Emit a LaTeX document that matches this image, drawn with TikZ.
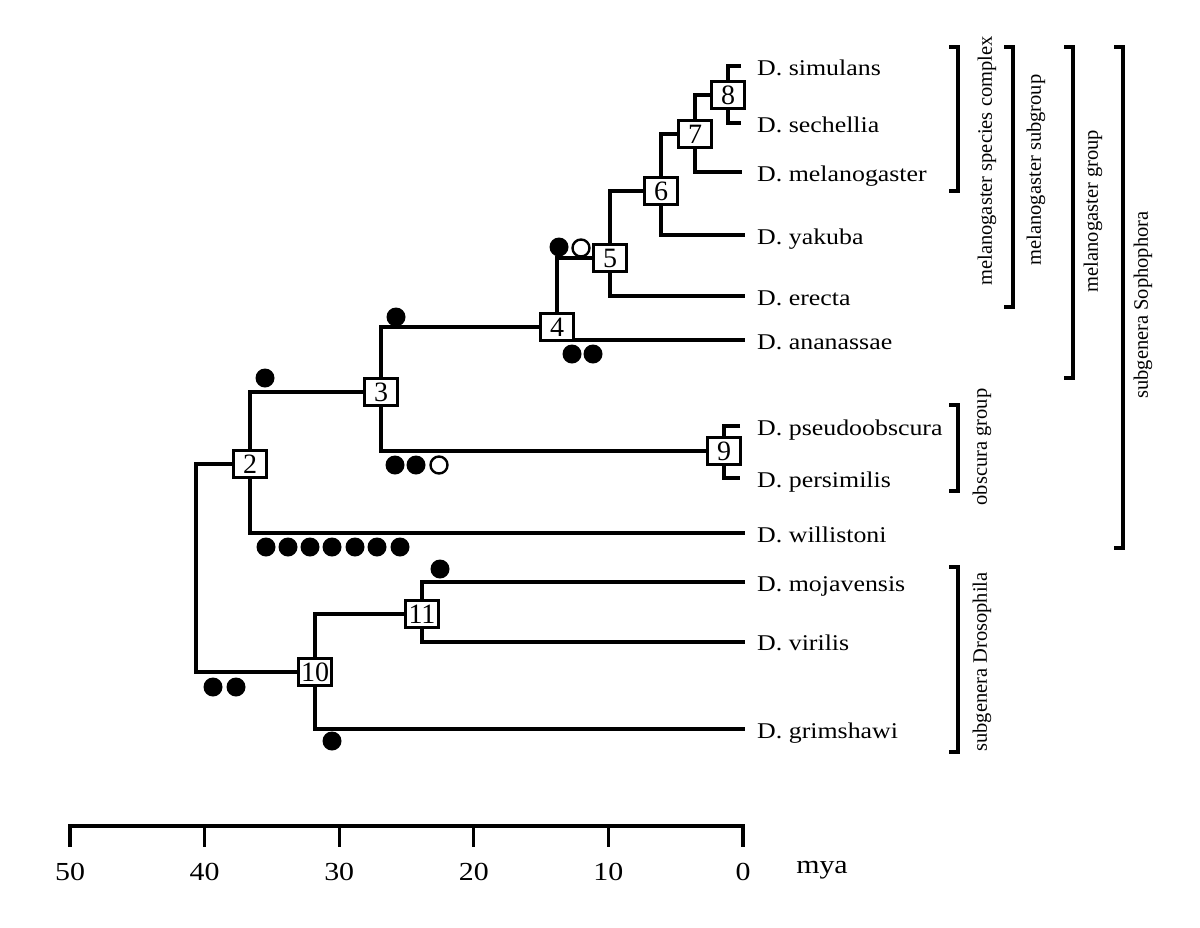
\documentclass[tikz,border=0pt]{standalone}
\usepackage{fontspec}
\setmainfont{Liberation Serif}
\pgfdeclarelayer{bg}
\pgfsetlayers{bg,main}
\newcommand{\wide}[1]{\scalebox{1.15}[1]{#1}}
\begin{document}
\begin{tikzpicture}[x=1pt,y=-1pt,
  br/.style={line width=3.1pt},
  nbox/.style={draw, fill=white, line width=3pt, minimum width=33pt, minimum height=27pt, inner sep=0pt, font=\fontsize{28}{28}\selectfont},
  leaf/.style={anchor=base west, inner sep=0pt, font=\fontsize{22.5}{22.5}\selectfont},
  fc/.style={circle, fill=black, minimum size=19pt, inner sep=0pt},
  oc/.style={circle, draw, fill=white, line width=2.4pt, minimum size=17pt, inner sep=0pt},
  grp/.style={rotate=90, inner sep=0pt, font=\fontsize{20.5}{20.5}\selectfont},
  axl/.style={inner sep=0pt, font=\fontsize{26}{26}\selectfont}]
\useasboundingbox (0,0) rectangle (1200,927);

% internal nodes
\node[nbox] (n8) at (728,95) {8};
\node[nbox] (n7) at (695,134) {7};
\node[nbox] (n6) at (661,191) {6};
\node[nbox] (n5) at (610,258) {5};
\node[nbox] (n4) at (557,327) {4};
\node[nbox] (n3) at (381,392) {3};
\node[nbox] (n2) at (250,464) {2};
\node[nbox] (n9) at (724,451) {9};
\node[nbox] (n10) at (315,672) {10};
\node[nbox] (n11) at (422,614) {11};
\coordinate (root) at (196,464);

% tips
\coordinate (tsim) at (741,66);
\coordinate (tsec) at (741,123);
\coordinate (tmel) at (742,172);
\coordinate (tyak) at (745,235);
\coordinate (tere) at (745,296);
\coordinate (tana) at (745,340);
\coordinate (tpse) at (740,426);
\coordinate (tper) at (740,478);
\coordinate (twil) at (745,533);
\coordinate (tmoj) at (745,582);
\coordinate (tvir) at (745,642);
\coordinate (tgri) at (745,729);

% labels
\node[leaf] (lsim) at (757,75) {\wide{D. simulans}};
\node[leaf] (lsec) at (757,132) {\wide{D. sechellia}};
\node[leaf] (lmel) at (757,181) {\wide{D. melanogaster}};
\node[leaf] (lyak) at (757,244) {\wide{D. yakuba}};
\node[leaf] (lere) at (757,305) {\wide{D. erecta}};
\node[leaf] (lana) at (757,349) {\wide{D. ananassae}};
\node[leaf] (lpse) at (757,435) {\wide{D. pseudoobscura}};
\node[leaf] (lper) at (757,487) {\wide{D. persimilis}};
\node[leaf] (lwil) at (757,542) {\wide{D. willistoni}};
\node[leaf] (lmoj) at (757,591) {\wide{D. mojavensis}};
\node[leaf] (lvir) at (757,650) {\wide{D. virilis}};
\node[leaf] (lgri) at (757,738) {\wide{D. grimshawi}};

% branches
\begin{pgfonlayer}{bg}
\draw[br] (tsim) -| (n8) |- (tsec);
\draw[br] (n8) -| (n7) |- (tmel);
\draw[br] (n7) -| (n6) |- (tyak);
\draw[br] (n6) -| (n5) |- (tere);
\draw[br] (n5) -| (n4) |- (tana);
\draw[br] (n4) -| (n3) |- (n9);
\draw[br] (tpse) -| (n9) |- (tper);
\draw[br] (n3) -| (n2) |- (twil);
\draw[br] (n2) -| (root) |- (n10);
\draw[br] (n11) -| (n10) |- (tgri);
\draw[br] (tmoj) -| (n11) |- (tvir);
\end{pgfonlayer}

% events
\node[fc] (e1) at (265,378) {};
\node[fc] (e2) at (396,317) {};
\node[fc] (e3) at (559,247) {};
\node[oc] (e4) at (581,248) {};
\node[fc] (e5) at (572,354) {};
\node[fc] (e6) at (593,354) {};
\node[fc] (e7) at (395,465) {};
\node[fc] (e8) at (416,465) {};
\node[oc] (e9) at (439,465) {};
\foreach \i/\x in {a/266,b/288,c/310,d/332,e/355,f/377,g/400}
  \node[fc] (w\i) at (\x,547) {};
\node[fc] (e10) at (213,687) {};
\node[fc] (e11) at (236,687) {};
\node[fc] (e12) at (440,569) {};
\node[fc] (e13) at (332,741) {};

% brackets
\draw[br] (949,47) -- (958,47) -- (958,191) -- (949,191);
\draw[br] (1004,47) -- (1013,47) -- (1013,307) -- (1004,307);
\draw[br] (1064,47) -- (1073,47) -- (1073,378) -- (1064,378);
\draw[br] (1114,47) -- (1123,47) -- (1123,548) -- (1114,548);
\draw[br] (949,405) -- (958,405) -- (958,491) -- (949,491);
\draw[br] (949,567) -- (958,567) -- (958,752) -- (949,752);
\node[grp] (g1) at (987,161) {melanogaster species complex};
\node[grp] (g2) at (1036,170) {melanogaster subgroup};
\node[grp] (g3) at (1093,211) {melanogaster group};
\node[grp] (g4) at (1143,305) {subgenera Sophophora};
\node[grp] (g5) at (982,447) {obscura group};
\node[grp] (g6) at (982,662) {subgenera Drosophila};

% axis
\foreach \t in {50,40,30,20,10,0}{
  \coordinate (a\t) at ({743-13.46*\t},826);
  \coordinate (b\t) at ({743-13.46*\t},847);
  \draw[br] (a\t) -- (b\t);
  \node[axl] (x\t) at ({743-13.46*\t},872) {\wide{\t}};
}
\draw[br] ([xshift=-1.55pt]a50) -- ([xshift=1.55pt]a0);
\node[axl] (mya) at (822,870) {\wide{mya}};
\end{tikzpicture}
\end{document}
